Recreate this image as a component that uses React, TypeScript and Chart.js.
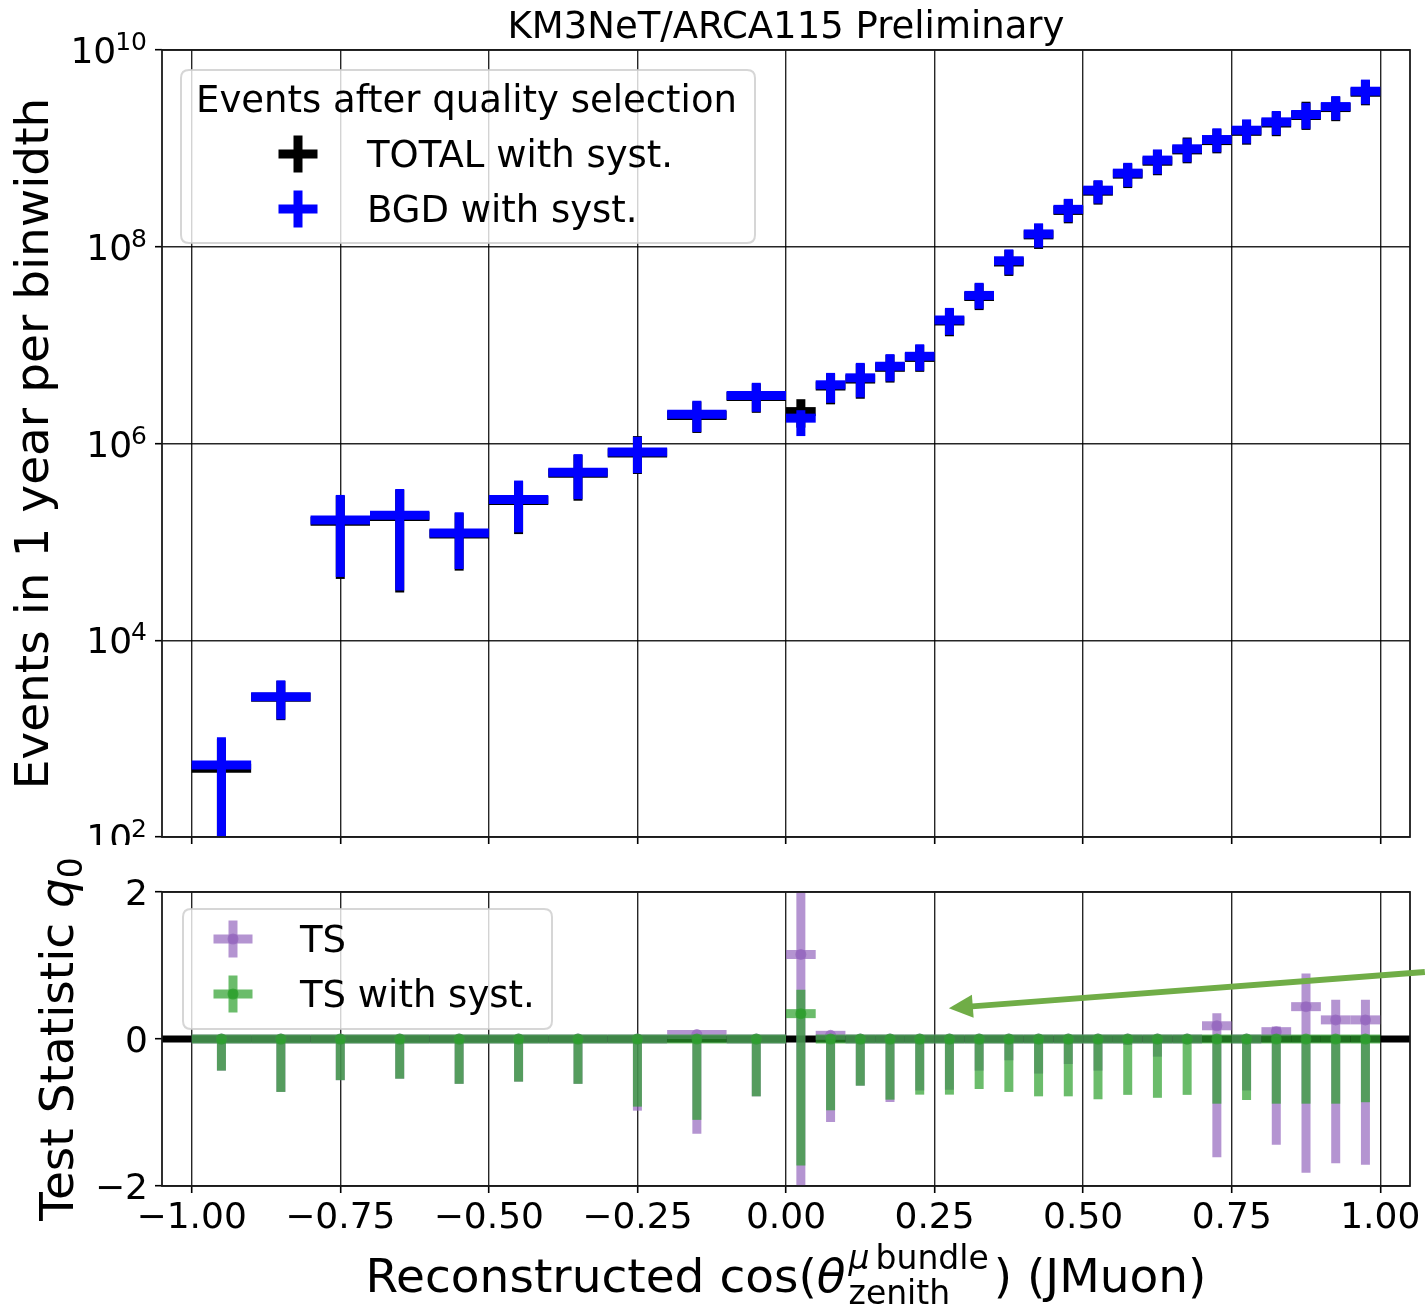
import React, { useEffect, useRef } from 'react';
import { Chart, registerables } from 'chart.js';

Chart.register(...registerables);

// ---------------- data ----------------
const binCenters = [
  -0.95, -0.85, -0.75, -0.65, -0.55, -0.45, -0.35, -0.25, -0.15, -0.05,
  0.025, 0.075, 0.125, 0.175, 0.225, 0.275, 0.325, 0.375, 0.425, 0.475,
  0.525, 0.575, 0.625, 0.675, 0.725, 0.775, 0.825, 0.875, 0.925, 0.975,
];
const binHalfWidths = [
  0.05, 0.05, 0.05, 0.05, 0.05, 0.05, 0.05, 0.05, 0.05, 0.05,
  0.025, 0.025, 0.025, 0.025, 0.025, 0.025, 0.025, 0.025, 0.025, 0.025,
  0.025, 0.025, 0.025, 0.025, 0.025, 0.025, 0.025, 0.025, 0.025, 0.025,
];

const xTickValues = [-1, -0.75, -0.5, -0.25, 0, 0.25, 0.5, 0.75, 1];
const xTickLabels = ['\u22121.00', '\u22120.75', '\u22120.50', '\u22120.25', '0.00', '0.25', '0.50', '0.75', '1.00'];
const yTopTickValues = [1e2, 1e4, 1e6, 1e8, 1e10];
const yTopTickExponents = ['2', '4', '6', '8', '10'];
const yBottomTickValues = [-2, 0, 2];
const yBottomTickLabels = ['\u22122', '0', '2'];

// top panel: BGD with syst.
const bgdValues = [540, 2670, 1.67e5, 1.86e5, 1.23e5, 2.7e5, 5.1e5, 8.2e5, 1.98e6, 3.08e6,
  1.81e6, 3.95e6, 4.65e6, 6.1e6, 7.7e6, 1.8e7, 3.2e7, 7.2e7, 1.35e8, 2.4e8,
  3.76e8, 5.6e8, 7.6e8, 9.9e8, 1.23e9, 1.53e9, 1.86e9, 2.21e9, 2.66e9, 3.81e9];
const bgdLow = [60, 1570, 4.4e4, 3.2e4, 5.3e4, 1.25e5, 2.72e5, 5.0e5, 1.31e6, 2.1e6,
  1.19e6, 2.59e6, 2.94e6, 4.28e6, 5.48e6, 1.27e7, 2.34e7, 5.2e7, 9.8e7, 1.78e8,
  2.75e8, 4.06e8, 5.47e8, 7.24e8, 9.14e8, 1.12e9, 1.37e9, 1.58e9, 1.94e9, 2.81e9];
const bgdHigh = [1030, 3910, 3.0e5, 3.44e5, 2.0e5, 4.2e5, 7.8e5, 1.17e6, 2.72e6, 4.14e6,
  2.18e6, 5.22e6, 6.6e6, 8.1e6, 1.02e7, 2.39e7, 4.3e7, 9.4e7, 1.73e8, 3.07e8,
  4.75e8, 7.13e8, 9.75e8, 1.26e9, 1.6e9, 1.97e9, 2.4e9, 2.9e9, 3.4e9, 5.0e9];

// top panel: TOTAL with syst.
const totalValues = [500, 2640, 1.62e5, 1.81e5, 1.2e5, 2.63e5, 4.98e5, 8.0e5, 1.93e6, 3.0e6,
  2.11e6, 3.84e6, 4.52e6, 5.95e6, 7.5e6, 1.76e7, 3.12e7, 7.0e7, 1.32e8, 2.34e8,
  3.67e8, 5.47e8, 7.4e8, 9.65e8, 1.2e9, 1.49e9, 1.81e9, 2.16e9, 2.6e9, 3.72e9];
const totalLow = [55, 1540, 4.2e4, 3.05e4, 5.1e4, 1.2e5, 2.62e5, 4.9e5, 1.28e6, 2.05e6,
  1.45e6, 2.5e6, 2.85e6, 4.16e6, 5.35e6, 1.23e7, 2.27e7, 5.05e7, 9.5e7, 1.73e8,
  2.68e8, 3.95e8, 5.33e8, 7.05e8, 8.9e8, 1.09e9, 1.33e9, 1.54e9, 1.89e9, 2.74e9];
const totalHigh = [1000, 3860, 2.95e5, 3.38e5, 1.96e5, 4.12e5, 7.65e5, 1.19e6, 2.67e6, 4.06e6,
  2.82e6, 5.12e6, 6.45e6, 7.95e6, 1.0e7, 2.35e7, 4.22e7, 9.25e7, 1.7e8, 3.02e8,
  4.66e8, 7.0e8, 9.57e8, 1.29e9, 1.57e9, 1.94e9, 2.36e9, 2.98e9, 3.34e9, 4.92e9];

// bottom panel: TS
const tsValues = [0, 0, 0, 0, 0, 0, 0, 0, 0.06, 0,
  1.15, 0.05, 0, 0, 0, 0, 0, 0, 0, 0,
  0, 0, 0, 0, 0.18, 0, 0.10, 0.44, 0.26, 0.26];
const tsLow = [-0.43, -0.72, -0.56, -0.54, -0.61, -0.58, -0.61, -0.975, -1.29, -0.78,
  -2.4, -1.13, -0.635, -0.857, -0.70, -0.69, -0.43, -0.29, -0.47, -0.34,
  -0.43, -0.08, -0.24, -0.05, -1.61, -0.70, -1.44, -1.82, -1.69, -1.71];
const tsHigh = [0, 0, 0, 0, 0, 0, 0, 0, 0.06, 0,
  2.3, 0.05, 0, 0, 0, 0, 0, 0, 0, 0,
  0, 0, 0, 0, 0.35, 0, 0.17, 0.89, 0.535, 0.535];

// bottom panel: TS with syst.
const tsSystValues = [0, 0, 0, 0, 0, 0, 0, 0, 0, 0,
  0.345, 0, 0, 0, 0, 0, 0, 0, 0, 0,
  0, 0, 0, 0, 0, 0, 0, 0, 0, 0];
const tsSystLow = [-0.43, -0.72, -0.56, -0.54, -0.61, -0.58, -0.61, -0.92, -1.10, -0.78,
  -1.72, -0.97, -0.635, -0.825, -0.757, -0.757, -0.68, -0.72, -0.78, -0.78,
  -0.82, -0.76, -0.80, -0.76, -0.88, -0.83, -0.88, -0.88, -0.88, -0.86];
const tsSystHigh = [0, 0, 0, 0, 0, 0, 0, 0, 0, 0,
  0.67, 0, 0, 0, 0, 0, 0, 0, 0, 0,
  0, 0, 0, 0, 0, 0, 0, 0, 0, 0];

// annotation arrow (data coordinates of bottom panel)
const arrowTail = { x: 1.075, y: 0.91 };
const arrowTip = { x: 0.274, y: 0.42 };

// ---------------- styling ----------------
const FONT = '"DejaVu Sans", Verdana, sans-serif';
const PURPLE = 'rgb(148,103,189)';
const GREEN = 'rgb(44,160,44)';
const BLUE = 'rgb(0,0,255)';
const BLACK = 'rgb(0,0,0)';
const ARROW_GREEN = 'rgb(112,173,71)';
const GRID = 'rgba(0,0,0,0.85)';
const W = 1426;
const TOP_H = 845;
const BOT_TOP = 840;
const BOT_H = 1309 - BOT_TOP;

function makeDataset(label: string, values: number[], low: number[], high: number[], color: string, alpha: number, dot: number) {
  return {
    label,
    data: binCenters.map((x, i) => ({ x, y: values[i] })),
    pointRadius: 0,
    showLine: false,
    ebLow: low,
    ebHigh: high,
    ebHalf: binHalfWidths,
    ebColor: color,
    ebAlpha: alpha,
    ebDot: dot,
  };
}

function seg(ctx: CanvasRenderingContext2D, x1: number, y1: number, x2: number, y2: number) {
  ctx.beginPath();
  ctx.moveTo(x1, y1);
  ctx.lineTo(x2, y2);
  ctx.stroke();
}

function drawErrorBars(chart: any) {
  const { ctx, chartArea: a } = chart;
  const xs = chart.scales.x;
  const ys = chart.scales.y;
  ctx.save();
  ctx.beginPath();
  ctx.rect(a.left, a.top, a.right - a.left, a.bottom - a.top);
  ctx.clip();
  ctx.lineCap = 'butt';
  chart.data.datasets.forEach((ds: any) => {
    ctx.strokeStyle = ds.ebColor;
    ctx.fillStyle = ds.ebColor;
    ctx.lineWidth = 9;
    ctx.globalAlpha = ds.ebAlpha;
    ds.data.forEach((p: any, i: number) => {
      const px = xs.getPixelForValue(p.x);
      const py = ys.getPixelForValue(p.y);
      const xl = xs.getPixelForValue(p.x - ds.ebHalf[i]);
      const xr = xs.getPixelForValue(p.x + ds.ebHalf[i]);
      seg(ctx, xl, py, xr, py);
      const yl = ys.getPixelForValue(ds.ebLow[i]);
      const yh = ys.getPixelForValue(ds.ebHigh[i]);
      if (Math.abs(yl - yh) > 0.5) seg(ctx, px, yl, px, yh);
    });
    if (ds.ebDot > 0) {
      ds.data.forEach((p: any) => {
        const px = xs.getPixelForValue(p.x);
        const py = ys.getPixelForValue(p.y);
        ctx.beginPath();
        ctx.arc(px, py, ds.ebDot, 0, Math.PI * 2);
        ctx.fill();
      });
    }
  });
  ctx.restore();
}

function drawFrame(chart: any) {
  const { ctx, chartArea: a } = chart;
  ctx.save();
  ctx.strokeStyle = '#1a1a1a';
  ctx.lineWidth = 1.8;
  ctx.strokeRect(a.left, a.top, a.right - a.left, a.bottom - a.top);
  ctx.restore();
}

function roundRect(ctx: CanvasRenderingContext2D, x: number, y: number, w: number, h: number, r: number) {
  ctx.beginPath();
  ctx.moveTo(x + r, y);
  ctx.lineTo(x + w - r, y);
  ctx.quadraticCurveTo(x + w, y, x + w, y + r);
  ctx.lineTo(x + w, y + h - r);
  ctx.quadraticCurveTo(x + w, y + h, x + w - r, y + h);
  ctx.lineTo(x + r, y + h);
  ctx.quadraticCurveTo(x, y + h, x, y + h - r);
  ctx.lineTo(x, y + r);
  ctx.quadraticCurveTo(x, y, x + r, y);
  ctx.closePath();
}

function legendBox(ctx: CanvasRenderingContext2D, x: number, y: number, w: number, h: number) {
  ctx.save();
  roundRect(ctx, x, y, w, h, 8);
  ctx.fillStyle = 'rgba(255,255,255,0.8)';
  ctx.fill();
  ctx.strokeStyle = 'rgba(204,204,204,0.8)';
  ctx.lineWidth = 2;
  ctx.stroke();
  ctx.restore();
}

function legendCross(ctx: CanvasRenderingContext2D, cx: number, cy: number, color: string, alpha: number, dot: number) {
  ctx.save();
  ctx.strokeStyle = color;
  ctx.fillStyle = color;
  ctx.globalAlpha = alpha;
  ctx.lineWidth = 9;
  ctx.lineCap = 'butt';
  seg(ctx, cx - 19.5, cy, cx + 19.5, cy);
  seg(ctx, cx, cy - 18.5, cx, cy + 18.5);
  if (dot > 0) {
    ctx.beginPath();
    ctx.arc(cx, cy, dot, 0, Math.PI * 2);
    ctx.fill();
  }
  ctx.restore();
}

function drawXTickLabels(chart: any) {
  const { ctx, chartArea: a } = chart;
  const xs = chart.scales.x;
  ctx.save();
  ctx.fillStyle = '#000';
  ctx.font = `36px ${FONT}`;
  ctx.textAlign = 'center';
  ctx.textBaseline = 'alphabetic';
  xTickValues.forEach((v, i) => {
    ctx.fillText(xTickLabels[i], xs.getPixelForValue(v), a.bottom + 42);
  });
  ctx.restore();
}

// ---------------- plugins ----------------
const topPlugin = {
  id: 'topPanel',
  afterDatasetsDraw(chart: any) {
    drawErrorBars(chart);
    drawFrame(chart);
  },
  afterDraw(chart: any) {
    const { ctx, chartArea: a } = chart;
    const ys = chart.scales.y;
    ctx.save();
    ctx.fillStyle = '#000';
    ctx.textBaseline = 'alphabetic';
    // title
    ctx.font = `37px ${FONT}`;
    ctx.textAlign = 'center';
    ctx.fillText('KM3NeT/ARCA115 Preliminary', (a.left + a.right) / 2, 38);
    // y tick labels 10^n
    ctx.textAlign = 'left';
    const R = a.left - 15;
    yTopTickValues.forEach((v, i) => {
      const y = ys.getPixelForValue(v);
      ctx.font = `25px ${FONT}`;
      const we = ctx.measureText(yTopTickExponents[i]).width;
      ctx.fillText(yTopTickExponents[i], R - we, y);
      ctx.font = `36px ${FONT}`;
      const w10 = ctx.measureText('10').width;
      ctx.fillText('10', R - we - w10 + 1, y + 13);
    });
    // y axis label
    ctx.save();
    ctx.translate(48, (a.top + a.bottom) / 2);
    ctx.rotate(-Math.PI / 2);
    ctx.textAlign = 'center';
    ctx.font = `47px ${FONT}`;
    ctx.fillText('Events in 1 year per binwidth', 0, 0);
    ctx.restore();
    // legend
    const lx = a.left + 19;
    const ly = a.top + 20;
    legendBox(ctx, lx, ly, 574, 173);
    ctx.fillStyle = '#000';
    ctx.textAlign = 'left';
    ctx.font = `37px ${FONT}`;
    ctx.fillText('Events after quality selection', lx + 15, ly + 42);
    legendCross(ctx, lx + 117, ly + 84, BLACK, 1, 0);
    legendCross(ctx, lx + 117, ly + 139, BLUE, 1, 0);
    ctx.fillStyle = '#000';
    ctx.fillText('TOTAL with syst.', lx + 186, ly + 97);
    ctx.fillText('BGD with syst.', lx + 186, ly + 152);
    ctx.restore();
  },
};

const bottomPlugin = {
  id: 'bottomPanel',
  beforeDatasetsDraw(chart: any) {
    const { ctx, chartArea: a } = chart;
    const y0 = chart.scales.y.getPixelForValue(0);
    ctx.save();
    ctx.beginPath();
    ctx.rect(a.left, a.top, a.right - a.left, a.bottom - a.top);
    ctx.clip();
    ctx.strokeStyle = '#000';
    ctx.lineWidth = 7;
    seg(ctx, a.left, y0, a.right, y0);
    ctx.restore();
  },
  afterDatasetsDraw(chart: any) {
    drawErrorBars(chart);
    drawFrame(chart);
  },
  afterDraw(chart: any) {
    const { ctx, chartArea: a } = chart;
    const xs = chart.scales.x;
    const ys = chart.scales.y;
    ctx.save();
    ctx.fillStyle = '#000';
    ctx.textBaseline = 'alphabetic';
    // y tick labels
    ctx.font = `36px ${FONT}`;
    ctx.textAlign = 'right';
    yBottomTickValues.forEach((v, i) => {
      ctx.fillText(yBottomTickLabels[i], a.left - 14, ys.getPixelForValue(v) + 13);
    });
    drawXTickLabels(chart);
    // y axis label with subscript
    ctx.save();
    ctx.translate(73, (a.top + a.bottom) / 2);
    ctx.rotate(-Math.PI / 2);
    ctx.textAlign = 'left';
    const t1 = 'Test Statistic ';
    ctx.font = `47px ${FONT}`;
    const w1 = ctx.measureText(t1).width;
    ctx.font = `italic 47px ${FONT}`;
    const wq = ctx.measureText('q').width;
    ctx.font = `33px ${FONT}`;
    const w0 = ctx.measureText('0').width;
    const tot = w1 + wq + w0;
    let x0 = -tot / 2;
    ctx.font = `47px ${FONT}`;
    ctx.fillText(t1, x0, 0);
    ctx.font = `italic 47px ${FONT}`;
    ctx.fillText('q', x0 + w1, 0);
    ctx.font = `33px ${FONT}`;
    ctx.fillText('0', x0 + w1 + wq, 9);
    ctx.restore();
    // x axis label
    const p1 = 'Reconstructed cos(';
    const p4 = ') (JMuon)';
    ctx.font = `47px ${FONT}`;
    const a1 = ctx.measureText(p1).width;
    const a4 = ctx.measureText(p4).width;
    ctx.font = `italic 47px ${FONT}`;
    const aT = ctx.measureText('\u03b8').width;
    ctx.font = `italic 33px ${FONT}`;
    const aMu = ctx.measureText('\u03bc').width;
    ctx.font = `33px ${FONT}`;
    const aB = ctx.measureText('bundle').width;
    const aZ = ctx.measureText('zenith').width;
    const aS = Math.max(aMu + 6 + aB, aZ) + 8;
    const totW = a1 + aT + aS + a4;
    const base = a.bottom + 106;
    let cx = (a.left + a.right) / 2 - totW / 2;
    ctx.textAlign = 'left';
    ctx.font = `47px ${FONT}`;
    ctx.fillText(p1, cx, base);
    cx += a1;
    ctx.font = `italic 47px ${FONT}`;
    ctx.fillText('\u03b8', cx, base);
    cx += aT;
    ctx.font = `italic 33px ${FONT}`;
    ctx.fillText('\u03bc', cx + 3, base - 23);
    ctx.font = `33px ${FONT}`;
    ctx.fillText('bundle', cx + 3 + aMu + 6, base - 23);
    ctx.fillText('zenith', cx + 3, base + 12);
    cx += aS;
    ctx.font = `47px ${FONT}`;
    ctx.fillText(p4, cx, base);
    // legend
    const lx = a.left + 21;
    const ly = a.top + 17;
    legendBox(ctx, lx, ly, 369, 120);
    legendCross(ctx, lx + 50, ly + 30, PURPLE, 0.7, 5.5);
    legendCross(ctx, lx + 50, ly + 85, GREEN, 0.7, 5.5);
    ctx.fillStyle = '#000';
    ctx.font = `37px ${FONT}`;
    ctx.fillText('TS', lx + 117, ly + 43);
    ctx.fillText('TS with syst.', lx + 117, ly + 98);
    // arrow annotation
    const tx = xs.getPixelForValue(arrowTail.x);
    const ty = ys.getPixelForValue(arrowTail.y);
    const hx = xs.getPixelForValue(arrowTip.x);
    const hy = ys.getPixelForValue(arrowTip.y);
    const ang = Math.atan2(hy - ty, hx - tx);
    const headLen = 24;
    const headHalf = 11.5;
    const bx = hx - headLen * Math.cos(ang);
    const by = hy - headLen * Math.sin(ang);
    ctx.strokeStyle = ARROW_GREEN;
    ctx.fillStyle = ARROW_GREEN;
    ctx.lineWidth = 6;
    ctx.lineCap = 'butt';
    seg(ctx, tx, ty, bx + 4 * Math.cos(ang), by + 4 * Math.sin(ang));
    ctx.beginPath();
    ctx.moveTo(hx, hy);
    ctx.lineTo(bx - headHalf * Math.sin(ang), by + headHalf * Math.cos(ang));
    ctx.lineTo(bx + headHalf * Math.sin(ang), by - headHalf * Math.cos(ang));
    ctx.closePath();
    ctx.fill();
    ctx.restore();
  },
};

function xScaleOptions(height: number) {
  return {
    type: 'linear',
    min: -1.05,
    max: 1.05,
    ticks: { display: false },
    grid: { color: GRID, lineWidth: 1.4, drawTicks: true, tickLength: 7, tickColor: '#000', tickWidth: 1.6 },
    border: { display: false },
    afterBuildTicks: (s: any) => { s.ticks = xTickValues.map((v) => ({ value: v })); },
    afterFit: (s: any) => { s.height = height; s.paddingLeft = 0; s.paddingRight = 0; },
  };
}

export default function App() {
  const topRef = useRef<HTMLCanvasElement>(null);
  const botRef = useRef<HTMLCanvasElement>(null);

  useEffect(() => {
    const top = new Chart(topRef.current as HTMLCanvasElement, {
      type: 'scatter',
      data: {
        datasets: [
          makeDataset('TOTAL with syst.', totalValues, totalLow, totalHigh, BLACK, 1, 0),
          makeDataset('BGD with syst.', bgdValues, bgdLow, bgdHigh, BLUE, 1, 0),
        ] as any,
      },
      options: {
        responsive: false,
        animation: false,
        events: [],
        layout: { padding: { top: 50, right: W - 1410, left: 0, bottom: 0 } },
        plugins: { legend: { display: false }, tooltip: { enabled: false }, title: { display: false } },
        scales: {
          x: xScaleOptions(8) as any,
          y: {
            type: 'logarithmic',
            min: 1e2,
            max: 1e10,
            ticks: { display: false },
            grid: { color: GRID, lineWidth: 1.4, drawTicks: true, tickLength: 7, tickColor: '#000', tickWidth: 1.6 },
            border: { display: false },
            afterBuildTicks: (s: any) => { s.ticks = yTopTickValues.map((v) => ({ value: v })); },
            afterFit: (s: any) => { s.width = 162; s.paddingTop = 0; s.paddingBottom = 0; },
          } as any,
        },
      },
      plugins: [topPlugin as any],
    });

    const bot = new Chart(botRef.current as HTMLCanvasElement, {
      type: 'scatter',
      data: {
        datasets: [
          makeDataset('TS', tsValues, tsLow, tsHigh, PURPLE, 0.7, 5.5),
          makeDataset('TS with syst.', tsSystValues, tsSystLow, tsSystHigh, GREEN, 0.7, 5.5),
        ] as any,
      },
      options: {
        responsive: false,
        animation: false,
        events: [],
        layout: { padding: { top: 892 - BOT_TOP, right: W - 1410, left: 0, bottom: 0 } },
        plugins: { legend: { display: false }, tooltip: { enabled: false }, title: { display: false } },
        scales: {
          x: xScaleOptions(BOT_H - (1186 - BOT_TOP)) as any,
          y: {
            type: 'linear',
            min: -2,
            max: 2,
            ticks: { display: false },
            grid: { color: GRID, lineWidth: 1.4, drawTicks: true, tickLength: 7, tickColor: '#000', tickWidth: 1.6 },
            border: { display: false },
            afterBuildTicks: (s: any) => { s.ticks = yBottomTickValues.map((v) => ({ value: v })); },
            afterFit: (s: any) => { s.width = 162; s.paddingTop = 0; s.paddingBottom = 0; },
          } as any,
        },
      },
      plugins: [bottomPlugin as any],
    });

    return () => {
      top.destroy();
      bot.destroy();
    };
  }, []);

  return (
    <div style={{ position: 'absolute', left: 0, top: 0, width: W, height: 1309, background: '#fff', overflow: 'hidden' }}>
      <canvas ref={topRef} width={W} height={TOP_H} style={{ position: 'absolute', left: 0, top: 0, width: W, height: TOP_H }} />
      <canvas ref={botRef} width={W} height={BOT_H} style={{ position: 'absolute', left: 0, top: BOT_TOP, width: W, height: BOT_H }} />
    </div>
  );
}
